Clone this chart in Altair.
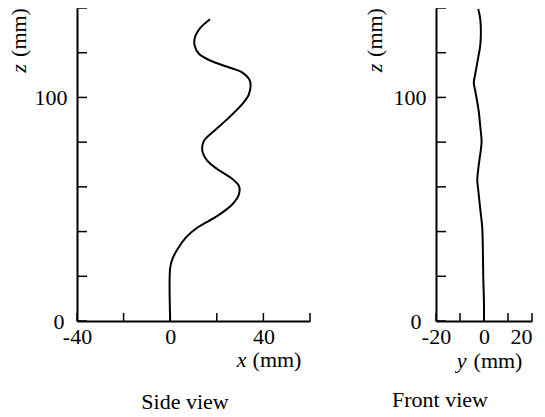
import altair as alt
import pandas as pd

# Side view: x (mm) vs z (mm)
side_x = [0, 0, 0.9, 3.1, 6.7, 11.7, 20.3, 26.7, 29.5, 29.5, 26.0, 20.3, 16.0, 13.8, 14.5,
          18.8, 24.5, 30.3, 33.8, 34.2, 31.0, 24.5, 17.4, 12.4, 10.5, 10.6, 13.1, 17.1]
side_z = [0, 23.9, 27.6, 32.1, 37.3, 41.8, 47.0, 52.2, 56.7, 60.4, 64.1, 67.9, 71.6, 76.1, 80.6,
          85.0, 90.3, 96.3, 101.5, 107.4, 111.1, 113.7, 116.4, 119.4, 123.1, 126.8, 131.3, 135.0]

# Front view: y (mm) vs z (mm)
front_y = [0, 0, -0.3, -0.5, -0.75, -1.5, -2.4, -2.8, -1.9, -1.5, -1.0, -1.5, -2.2, -3.5,
           -4.25, -3.8, -2.4, -1.5, -1.5, -2.4]
front_z = [0, 7.5, 19.5, 33.0, 42.0, 49.5, 58.6, 63.1, 72.1, 75.1, 80.3, 86.4, 93.8, 102.1,
           106.6, 109.6, 117.9, 123.9, 134.4, 139.5]

z_ticks = [0, 20, 40, 60, 80, 100, 120, 140]
z_labels = [0, 100]
side_x_ticks = [-40, -20, 0, 20, 40, 60]
side_x_labels = [-40, 0, 40]
front_y_ticks = [-20, -10, 0, 10, 20]
front_y_labels = [-20, 0, 20]

FONT = "Liberation Serif"
FS = 22

zscale = alt.Scale(domain=[0, 140], nice=False, zero=False)
AX = dict(ticks=False, title=None, grid=False, domainColor="black", domainWidth=2,
          labelFont=FONT, labelFontSize=FS, labelColor="black", labelFlush=False,
          labelExpr="datum.value < 0 ? '-' + abs(datum.value) : '' + datum.value")


def txt(s, x, y, italic=False, angle=0, align="center"):
    kw = dict(font=FONT, fontSize=FS, color="black", align=align, baseline="alphabetic")
    if italic:
        kw["fontStyle"] = "italic"
    if angle:
        kw["angle"] = angle
    return alt.Chart(pd.DataFrame({"t": [s]})).mark_text(**kw).encode(
        x=alt.value(x), y=alt.value(y), text="t:N")


def panel(hx, hz, hname, xdomain, xticks, xlabels, w, h, titles, align_expr=None, zpad=10):
    xscale = alt.Scale(domain=xdomain, nice=False, zero=False)
    df = pd.DataFrame({hname: hx, "z": hz, "order": list(range(len(hx)))})
    xaxis_kw = dict(values=xlabels, labelPadding=5, **AX)
    if align_expr:
        xaxis_kw["labelAlign"] = alt.expr(align_expr)
    xaxis = alt.Axis(**xaxis_kw)
    zaxis = alt.Axis(values=z_labels, labelPadding=zpad, **AX)
    line = alt.Chart(df).mark_line(color="black", strokeWidth=2, interpolate="catmull-rom").encode(
        x=alt.X(f"{hname}:Q", scale=xscale, axis=xaxis),
        y=alt.Y("z:Q", scale=zscale, axis=zaxis),
        order="order:Q",
    )
    zt = alt.Chart(pd.DataFrame({"z": z_ticks})).mark_rule(color="black", strokeWidth=1.5).encode(
        y=alt.Y("z:Q", scale=zscale, axis=zaxis), x=alt.value(0), x2=alt.value(10))
    xt = alt.Chart(pd.DataFrame({hname: xticks})).mark_rule(color="black", strokeWidth=1.5).encode(
        x=alt.X(f"{hname}:Q", scale=xscale, axis=xaxis), y=alt.value(h), y2=alt.value(h - 8))
    layers = [line, zt, xt] + [txt(*t[:3], **t[3]) for t in titles]
    return alt.layer(*layers).properties(width=w, height=h)


left = panel(side_x, side_z, "x", [-40, 60], side_x_ticks, side_x_labels, 233, 313, [
    ("z", -51, 60.5, dict(italic=True, angle=270)),
    ("(mm)", -51, 24.5, dict(angle=270)),
    ("x", 164.5, 359, dict(italic=True)),
    ("(mm)", 200, 359, dict()),
    ("Side view", 108, 401, dict()),
], zpad={"condition": {"test": "datum.value == 0", "value": 13}, "value": 10})

right = panel(front_y, front_z, "y", [-20, 20], front_y_ticks, front_y_labels, 96, 313, [
    ("z", -54, 60, dict(italic=True, angle=270)),
    ("(mm)", -54, 24.5, dict(angle=270)),
    ("y", 25.5, 360, dict(italic=True)),
    ("(mm)", 62, 360, dict()),
    ("Front view", 4, 399, dict()),
], align_expr="datum.value == 20 ? 'right' : 'center'",
    zpad={"condition": {"test": "datum.value == 0", "value": 15}, "value": 10})

chart = alt.hconcat(left, right, spacing=53).properties(
    padding={"left": 0, "top": -3, "right": 0, "bottom": 0},
    background="white",
).configure_view(stroke=None)

chart.save("out.html", embed_options={"renderer": "svg", "actions": False})
